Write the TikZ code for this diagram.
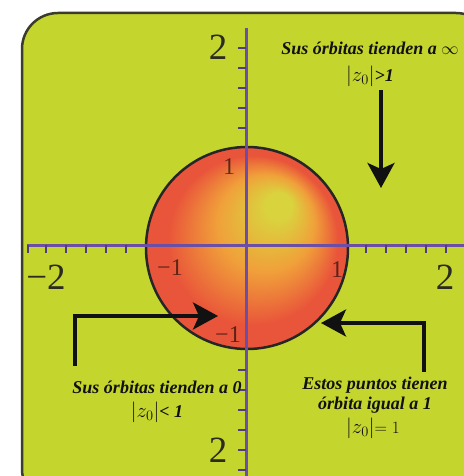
\documentclass[tikz,border=0pt]{standalone}
\usepackage{fontspec}
\setmainfont{Liberation Serif}
\usetikzlibrary{arrows.meta,calc,positioning}
\definecolor{Lime}{HTML}{C4D62E}
\definecolor{Frame}{HTML}{3B3B2E}
\definecolor{Axis}{HTML}{6B4FA6}
\definecolor{Ink}{HTML}{111111}
\definecolor{NumInk}{HTML}{2B2B22}
\definecolor{HiYellow}{HTML}{D9D43E}
\definecolor{MidOrange}{HTML}{F0A03A}
\definecolor{EdgeRed}{HTML}{E9553A}
\pgfdeclareradialshading{orbglow}{\pgfpoint{9bp}{12bp}}{%
  color(0bp)=(HiYellow); color(3bp)=(HiYellow); color(12bp)=(MidOrange);
  color(21bp)=(EdgeRed); color(25bp)=(EdgeRed)}
\newcommand{\modz}{{\fontsize{21}{21}\selectfont$\Bigl|z_0\Bigr|$}}
\tikzset{
  caption/.style={
    font=\fontsize{18}{20}\selectfont\bfseries\itshape, text=Ink,
    align=center, inner sep=1pt
  },
  bignum/.style={font=\fontsize{37}{37}\selectfont, text=NumInk, inner sep=0pt},
  unitnum/.style={
    font=\fontsize{24}{24}\selectfont, text=black, opacity=0.6, inner sep=0pt
  },
  axisline/.style={draw=Axis, line width=3pt},
  tickmark/.style={draw=Axis!75!black, line width=2pt},
  pointer/.style={-{Stealth[length=25pt,width=27pt,inset=6pt]}, line width=3.5pt, draw=Ink}
}

\begin{document}
\begin{tikzpicture}[x=1pt,y=-1pt]
    \useasboundingbox (0,0) rectangle (463,476);
    \fill[white] (0,0) rectangle (463,476);
    \draw[Frame, line width=2.5pt, fill=Lime, rounded corners=36pt] (22,13) rectangle (492,505);
    % disc
    \coordinate (O) at (247,248);
    \shade[shading=orbglow] (O) circle (101);
    \draw[line width=2.5pt, draw=black!85] (O) circle (101);
    % axes
    \draw[axisline] (27,245) -- (470,245);
    \draw[axisline] (246,28) -- (246,480);
    \foreach \x in {28,46,66,86,106,126,366,386,406,426,446}
      \draw[tickmark] (\x,245) -- ++(0,8);
    \foreach \y in {48,68,88,108,128,370,390,410,430,450,470}
      \draw[tickmark] (246,\y) -- ++(-8,0);
    \node[bignum] (ytop) at (218,47) {2};
    \node[bignum] (xneg) at (46,277) {−2};
    \node[bignum] (xpos) at (445,277) {2};
    \node[bignum] (ybot) at (218,450) {2};
    \node[unitnum] (yone) at (229,167) {1};
    \node[unitnum] (xmone) at (170,268) {−1};
    \node[unitnum] (xone) at (337,270) {1};
    \node[unitnum] (ymone) at (228,335) {−1};
    % captions
    \node[caption] (infT) at (370,48) {Sus órbitas tienden a $\infty$};
    \node[caption] (infC) at (370,76) {\modz>1};
    \node[caption] (zeroT) at (157,387) {Sus órbitas tienden a 0};
    \node[caption] (zeroC) at (157,412) {\modz< 1};
    \node[caption] (oneT) at (375,395) {Estos puntos tienen\\órbita igual a 1};
    \node[caption, font=\fontsize{18}{20}\selectfont] (oneC) at (373,428) {\modz$=1$};
    % pointers
    \coordinate (infTip) at (381,188);
    \coordinate (zeroFoot) at (75,366);
    \coordinate (zeroTip) at (218,316);
    \coordinate (oneFoot) at (424,372);
    \coordinate (oneTip) at (321,323);
    \draw[pointer] ([yshift=-2pt]infC.south -| infTip) -- (infTip);
    \draw[pointer] (zeroFoot) |- (zeroTip);
    \draw[pointer] (oneFoot) |- (oneTip);
  \end{tikzpicture}
\end{document}
